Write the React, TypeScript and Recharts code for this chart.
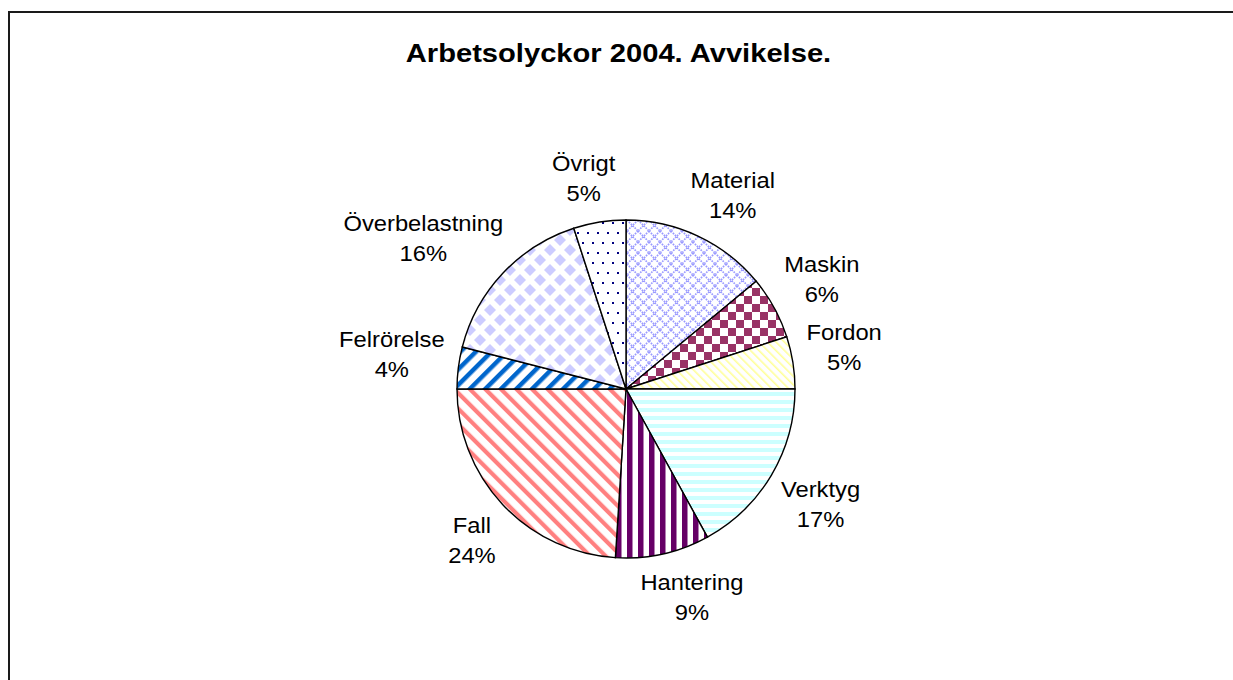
import React from 'react';
import { PieChart, Pie, Cell } from 'recharts';

const TITLE = 'Arbetsolyckor 2004. Avvikelse.';
const categories = ['Material', 'Maskin', 'Fordon', 'Verktyg', 'Hantering', 'Fall', 'Felrörelse', 'Överbelastning', 'Övrigt'];
const shares = [14, 6, 5, 17, 9, 24, 4, 16, 5];

const data = categories.map((name, i) => ({ name, value: shares[i] }));

const patternIds = ['pMat', 'pMask', 'pFord', 'pVerk', 'pHant', 'pFall', 'pFel', 'pOver', 'pOvr'];

const FONT = '"Liberation Sans", Arial, Helvetica, sans-serif';
const LABEL_FS = 22;
const SX = 1.08;

let ctx: CanvasRenderingContext2D | null = null;
const measure = (s: string) => {
  if (!ctx) {
    ctx = document.createElement('canvas').getContext('2d');
  }
  if (!ctx) return s.length * LABEL_FS * 0.55 * SX;
  ctx.font = `${LABEL_FS}px ${FONT}`;
  return ctx.measureText(s).width * SX;
};

const renderLabel = (props: any) => {
  const { cx, cy, midAngle, outerRadius, name, value } = props;
  const a = (-midAngle * Math.PI) / 180;
  const ux = Math.cos(a);
  const uy = Math.sin(a);
  const r = outerRadius + 14;
  const ax = cx + r * ux;
  const ay = cy + r * uy;
  const l2 = `${value}%`;
  const w = Math.max(measure(name), measure(l2));
  const h = 60;
  const f = (t: number) => Math.sign(t) * Math.pow(Math.abs(t), 0.45);
  const x = ax + (f(ux) * w) / 2;
  const yc = ay + (f(uy) * h) / 2;
  return (
    <g>
      <text
        transform={`translate(${x},${yc - 7}) scale(${SX},1)`}
        textAnchor="middle"
        fontFamily={FONT}
        fontSize={LABEL_FS}
        fill="#000"
      >
        {name}
      </text>
      <text
        transform={`translate(${x},${yc + 23}) scale(${SX},1)`}
        textAnchor="middle"
        fontFamily={FONT}
        fontSize={LABEL_FS}
        fill="#000"
      >
        {l2}
      </text>
    </g>
  );
};

const Defs = () => (
  <defs>
    <pattern id="pMat" width="11" height="11" patternUnits="userSpaceOnUse">
      <rect width="11" height="11" fill="#fff" />
      <path d="M0,0 L11,11 M11,0 L0,11" stroke="#9999FF" strokeWidth="1.7" strokeDasharray="1.6 1.1" />
    </pattern>
    <pattern id="pMask" width="16" height="16" patternUnits="userSpaceOnUse">
      <rect width="16" height="16" fill="#fff" />
      <rect x="0" y="0" width="8" height="8" fill="#993366" />
      <rect x="8" y="8" width="8" height="8" fill="#993366" />
    </pattern>
    <pattern id="pFord" width="6" height="6" patternUnits="userSpaceOnUse" patternTransform="rotate(-45)">
      <rect width="6" height="6" fill="#fff" />
      <rect x="0" y="0" width="1.6" height="6" fill="#FFFF99" />
    </pattern>
    <pattern id="pVerk" width="8" height="8" patternUnits="userSpaceOnUse">
      <rect width="8" height="8" fill="#fff" />
      <rect x="0" y="0" width="8" height="4" fill="#CCFFFF" />
    </pattern>
    <pattern id="pHant" width="11" height="11" patternUnits="userSpaceOnUse">
      <rect width="11" height="11" fill="#fff" />
      <rect x="0" y="0" width="5.5" height="11" fill="#660066" />
    </pattern>
    <pattern id="pFall" width="11" height="11" patternUnits="userSpaceOnUse" patternTransform="rotate(-45)">
      <rect width="11" height="11" fill="#fff" />
      <rect x="0" y="0" width="4.2" height="11" fill="#FF8080" />
    </pattern>
    <pattern id="pFel" width="11" height="11" patternUnits="userSpaceOnUse" patternTransform="rotate(45)">
      <rect width="11" height="11" fill="#fff" />
      <rect x="0" y="0" width="4.5" height="11" fill="#0066CC" />
    </pattern>
    <pattern id="pOver" width="20" height="20" patternUnits="userSpaceOnUse">
      <rect width="20" height="20" fill="#fff" />
      <polygon points="10,4 16,10 10,16 4,10" fill="#CCCCFF" />
      <polygon points="0,-6 6,0 0,6 -6,0" fill="#CCCCFF" />
      <polygon points="20,-6 26,0 20,6 14,0" fill="#CCCCFF" />
      <polygon points="0,14 6,20 0,26 -6,20" fill="#CCCCFF" />
      <polygon points="20,14 26,20 20,26 14,20" fill="#CCCCFF" />
    </pattern>
    <pattern id="pOvr" width="10" height="20" patternUnits="userSpaceOnUse">
      <rect width="10" height="20" fill="#fff" />
      <rect x="2" y="2" width="2" height="2" fill="#000080" />
      <rect x="7" y="12" width="2" height="2" fill="#000080" />
    </pattern>
  </defs>
);

export default function App() {
  return (
    <div>
      <div
        style={{
          position: 'fixed',
          left: 8,
          top: 11,
          width: 1225,
          height: 669,
          borderLeft: '2px solid #1a1a1a',
          borderTop: '2px solid #1a1a1a',
          boxSizing: 'border-box',
          background: '#fff',
        }}
      />
      <svg
        width={1233}
        height={680}
        style={{ position: 'fixed', left: 0, top: 0, pointerEvents: 'none', zIndex: 2 }}
      >
        <Defs />
        <text
          transform={`translate(618.5,61.5) scale(1.1,1)`}
          textAnchor="middle"
          fontFamily={FONT}
          fontWeight="bold"
          fontSize={26.5}
          fill="#000"
        >
          {TITLE}
        </text>
      </svg>
      <div style={{ position: 'fixed', left: 0, top: 0, width: 1233, height: 680, zIndex: 1 }}>
        <PieChart width={1233} height={680} margin={{ top: 0, right: 0, bottom: 0, left: 0 }}>
          <Pie
            data={data}
            dataKey="value"
            nameKey="name"
            cx={626}
            cy={389}
            outerRadius={169}
            startAngle={90}
            endAngle={-270}
            stroke="#000"
            strokeWidth={1.4}
            label={renderLabel}
            labelLine={false}
            isAnimationActive={false}
          >
            {data.map((d, i) => (
              <Cell key={d.name} fill={`url(#${patternIds[i]})`} />
            ))}
          </Pie>
        </PieChart>
      </div>
    </div>
  );
}
